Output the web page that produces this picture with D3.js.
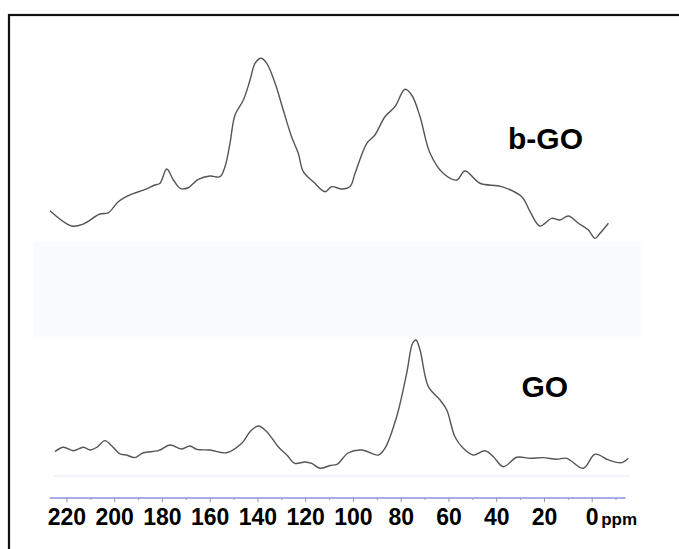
<!DOCTYPE html>
<html>
<head>
<meta charset="utf-8">
<script src="https://cdn.jsdelivr.net/npm/d3@7"></script>
<style>
  html, body { margin: 0; padding: 0; background: #fff; }
  svg { display: block; }
</style>
</head>
<body>
<svg id="chart" width="679" height="549"></svg>
<script>
// ---- data (chemical shift in ppm, intensity in arbitrary units) ----
const bgoPpm = [226.9,217.8,213,206,202.5,198.3,193.4,187.8,182.9,180.8,178,175.2,172.4,169,164.8,159.9,155.7,153.6,151.5,149.4,145.9,143.1,141,138.5,136.1,132.6,129.2,125.7,122.9,120.8,116.6,111.7,108.9,104.7,101.2,99.1,94.2,90.8,86.6,82.4,78.2,75.4,71.9,67.7,62.2,56.5,53.1,46.8,37.7,29.3,25.8,21.7,16.8,13.3,9.8,5.6,1.4,-1.4,-3.5,-7];
const bgoInt = [23,11.8,13.2,20.6,21.5,29.6,34.6,38.2,41.9,43.2,53.7,45.6,39.5,39.9,46.1,48.5,48,55.4,72.6,93.4,104.4,119.1,131.4,135.1,131.4,116.7,97.1,77.4,65.2,51.7,44.3,37,40.7,39,40.8,50.5,72.6,78.7,92.1,99.5,112.3,108.1,92.1,65.2,50.5,45.6,52.2,43.2,40.7,33.3,22.3,11.8,17.4,16.2,19.1,13.8,8.8,2.7,6.4,13.8];

const goPpm = [224.8,221.3,217.1,212.9,210.1,207.3,203.9,201,197.6,194.8,191.3,187.8,181.5,176.6,171.7,168.3,165.4,159.9,152.9,146.6,143.1,139.6,136.1,131.3,127.7,124.3,120.1,117.3,113.8,109.6,106.5,101.9,96.3,89.4,86.6,81.7,77.5,75,73.6,71.9,68.4,63.5,60.7,57.3,53.8,49.6,44.7,41.2,37,31.4,25.8,20.3,14.7,10.5,3.5,-1.4,-7,-12.6,-15.3];
const goInt = [17.9,21.1,18.6,21.1,19.1,21.1,26,22.1,16.2,15.4,13.5,17.1,18.6,22.8,19.9,22.1,19.6,19.1,17.1,24,32.6,36.8,32.6,21.5,15.4,9.3,10.3,9.3,5.7,7.7,8.8,17.1,19.1,15.4,20.4,43.6,75.5,97.6,100,92.6,65.7,55.9,48.5,28.9,20.4,15.4,18.6,14.2,6.8,13.8,13,13.5,12.3,13,5.7,16,11.8,9.8,13];

const majorTicks = [220,200,180,160,140,120,100,80,60,40,20,0];
const minorTicks = [210,190,170,150,130,110,90,70,50,30,10,-10];
const seriesLabels = ["b-GO","GO"];
const unitLabel = "ppm";

// ---- drawing ----
const svg = d3.select("#chart");
const W = 679, H = 549;

const x = d3.scaleLinear().domain([0, 220]).range([591.7, 66.45]);
const y = d3.scaleLinear().domain([0, 100]).range([0, -136]);

// outer frame (extends past the bottom/right of the view)
svg.append("rect")
  .attr("x", 9).attr("y", 15)
  .attr("width", W + 20).attr("height", H + 20)
  .attr("fill", "none").attr("stroke", "#111").attr("stroke-width", 2.2);

// faint background band between spectra
svg.append("rect")
  .attr("x", 33).attr("y", 242).attr("width", 608).attr("height", 95)
  .attr("fill", "#fafbfd");

// faint baseline under GO
svg.append("line")
  .attr("x1", 53).attr("x2", 630).attr("y1", 476).attr("y2", 476)
  .attr("stroke", "#e8ebf6").attr("stroke-width", 1.2);

const line = d3.line()
  .x(d => x(d[0]))
  .y(d => y(d[1]))
  .curve(d3.curveCatmullRom.alpha(0.5));

const gB = svg.append("g").attr("transform", "translate(0,242)");
gB.append("path")
  .datum(d3.zip(bgoPpm, bgoInt))
  .attr("d", line)
  .attr("fill", "none").attr("stroke", "#555").attr("stroke-width", 1.4);

const gG = svg.append("g").attr("transform", "translate(0,476)");
gG.append("path")
  .datum(d3.zip(goPpm, goInt))
  .attr("d", line)
  .attr("fill", "none").attr("stroke", "#555").attr("stroke-width", 1.4);

// series labels
svg.append("text").text(seriesLabels[0])
  .attr("x", 508).attr("y", 149)
  .attr("font-family", "Liberation Sans, Arial, sans-serif")
  .attr("font-weight", "bold").attr("font-size", 30).attr("fill", "#000");
svg.append("text").text(seriesLabels[1])
  .attr("x", 521.5).attr("y", 396.5)
  .attr("font-family", "Liberation Sans, Arial, sans-serif")
  .attr("font-weight", "bold").attr("font-size", 30).attr("fill", "#000");

// x axis
const axisY = 498;
const gAxis = svg.append("g").attr("transform", `translate(0,${axisY})`);
gAxis.append("line")
  .attr("x1", x(227)).attr("x2", x(-14.2)).attr("y1", 0).attr("y2", 0)
  .attr("stroke", "#a9aeea").attr("stroke-width", 2);

const minorAxis = d3.axisBottom(x).tickValues(minorTicks).tickSize(2).tickFormat("");
const gMinor = gAxis.append("g").call(minorAxis);
gMinor.select(".domain").remove();
gMinor.selectAll(".tick line").attr("stroke", "#9a9ab8").attr("stroke-width", 1);

const majorAxis = d3.axisBottom(x).tickValues(majorTicks).tickSize(4).tickPadding(6)
  .tickFormat(d3.format("d"));
const gMajor = gAxis.append("g").call(majorAxis);
gMajor.select(".domain").remove();
gMajor.selectAll(".tick line").attr("stroke", "#8f8fae").attr("stroke-width", 1);
gMajor.selectAll(".tick text")
  .attr("font-family", "Liberation Sans, Arial, sans-serif")
  .attr("font-weight", "bold").attr("font-size", 23).attr("fill", "#000")
  .attr("y", 26.5).attr("dy", 0);

svg.append("text").text(unitLabel)
  .attr("x", x(0) + 9.5).attr("y", axisY + 26.5)
  .attr("font-family", "Liberation Sans, Arial, sans-serif")
  .attr("font-weight", "bold").attr("font-size", 17).attr("fill", "#000");
</script>
</body>
</html>
